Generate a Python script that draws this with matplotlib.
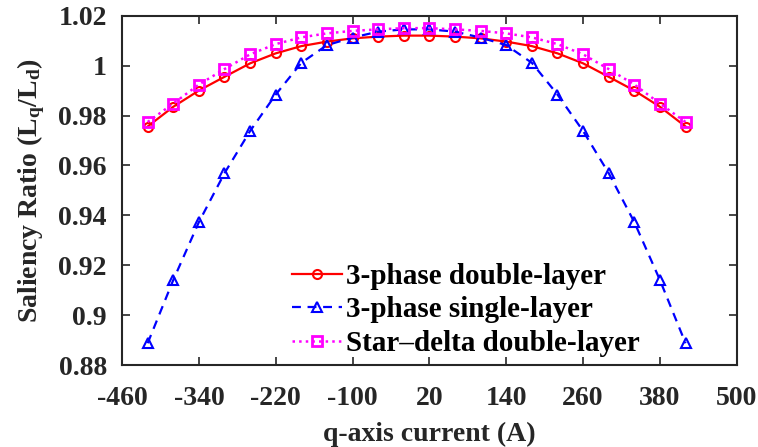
import matplotlib
matplotlib.use('Agg')
import matplotlib.pyplot as plt
from matplotlib.ticker import FuncFormatter
import numpy as np

# q-axis current sweep (A)
iq = [-420, -380, -340, -300, -260, -220, -180, -140, -100, -60, -20,
      20, 60, 100, 140, 180, 220, 260, 300, 340, 380, 420]

# saliency ratio Lq/Ld for each winding layout (symmetric about zero)
half_dl = [0.9756, 0.9835, 0.9900, 0.9955, 1.0009, 1.0049, 1.0078, 1.0096, 1.0109, 1.0116, 1.0120]
half_sl = [0.8888, 0.9141, 0.9373, 0.9569, 0.9738, 0.9884, 1.0011, 1.0082, 1.0112, 1.0136, 1.0145]
half_sd = [0.9774, 0.9848, 0.9924, 0.9986, 1.0045, 1.0086, 1.0113, 1.0129, 1.0139, 1.0145, 1.0150]
three_phase_dl = half_dl + half_dl[::-1]
three_phase_sl = half_sl + half_sl[::-1]
star_delta_dl = half_sd + half_sd[::-1]

labels = ['3-phase double-layer', '3-phase single-layer', 'Star\u2013delta double-layer']
xticks = list(range(-460, 501, 120))
yticks = [0.88, 0.9, 0.92, 0.94, 0.96, 0.98, 1.0, 1.02]

plt.rcParams['font.family'] = 'Liberation Serif'
plt.rcParams['font.weight'] = 'bold'
plt.rcParams['axes.labelweight'] = 'bold'
plt.rcParams['axes.unicode_minus'] = False
plt.rcParams['mathtext.fontset'] = 'custom'
plt.rcParams['mathtext.rm'] = 'Liberation Serif:bold'
plt.rcParams['mathtext.it'] = 'Liberation Serif:bold'
plt.rcParams['mathtext.bf'] = 'Liberation Serif:bold'

dark = '#262626'
fig = plt.figure(figsize=(7.58, 4.47), dpi=100)
ax = fig.add_axes([0.161, 0.183, 0.811, 0.782])

ax.plot(iq, three_phase_dl, '-', color='#FF0000', lw=1.6, marker='o', ms=6.5,
        mfc='none', mew=1.5, label=labels[0])
ax.plot(iq, three_phase_sl, '--', color='#0000FF', lw=1.6, marker='^', ms=7,
        mfc='none', mew=1.5, dashes=(4, 3), label=labels[1])
ax.plot(iq, star_delta_dl, ':', color='#FF00FF', lw=1.8, marker='s', ms=6.5,
        mfc='none', mew=2, label=labels[2])

ax.set_xlim(-460, 500)
ax.set_ylim(0.88, 1.02)
ax.set_xticks(xticks)
ax.set_yticks(yticks)
ax.yaxis.set_major_formatter(FuncFormatter(lambda v, p: '%g' % round(v, 2)))
ax.tick_params(direction='in', length=6, width=1.2, top=True, right=True,
               labelsize=20, colors=dark)
ax.tick_params(axis='x', pad=15)
ax.tick_params(axis='y', pad=11)
for s in ax.spines.values():
    s.set_color(dark)
    s.set_linewidth(1.5)

ax.set_xlabel('q-axis current (A)', fontsize=20, color=dark, labelpad=8)
ax.set_ylabel(r'Saliency Ratio (L$_\mathrm{q}$/L$_\mathrm{d}$)', fontsize=20,
              color=dark, labelpad=8)

leg = ax.legend(loc='lower left', bbox_to_anchor=(0.248, -0.027), frameon=False,
                fontsize=21, handlelength=1.71, handletextpad=0.14,
                labelspacing=0.23, borderaxespad=0.2)
for t in leg.get_texts():
    t.set_color('black')

fig.savefig('out.png', dpi=100)
